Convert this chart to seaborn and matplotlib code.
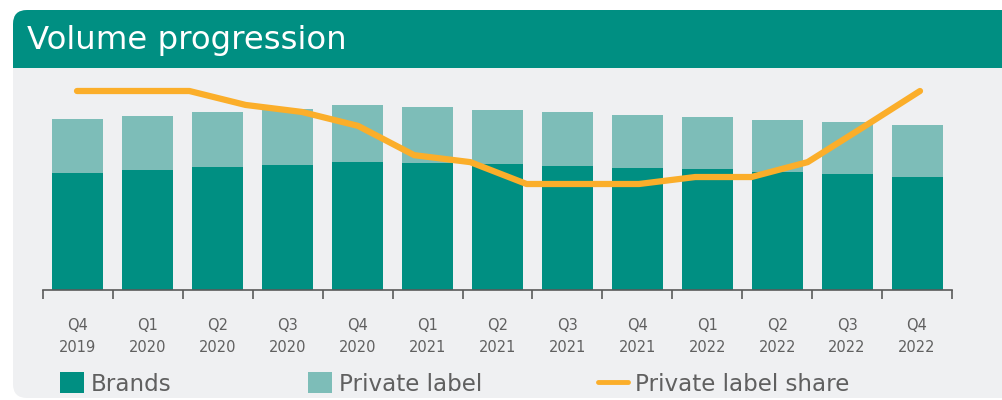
import numpy as np
import pandas as pd
import seaborn as sns
import matplotlib.pyplot as plt
from matplotlib.patches import FancyBboxPatch, Rectangle, Patch
from matplotlib.lines import Line2D
from matplotlib.transforms import IdentityTransform

# quarters shown on the x axis
quarters = ["Q4\n2019", "Q1\n2020", "Q2\n2020", "Q3\n2020", "Q4\n2020",
            "Q1\n2021", "Q2\n2021", "Q3\n2021", "Q4\n2021",
            "Q1\n2022", "Q2\n2022", "Q3\n2022", "Q4\n2022"]
# volumes (index)
brands = [117, 120, 123, 125, 128, 127, 126, 124, 122, 121, 118, 116, 113]
private_label = [54, 54, 55, 56, 57, 56, 54, 54, 53, 52, 52, 52, 52]
# private label share (%), finer steps than the bars
pl_share = [32.0, 32.0, 32.0, 31.7, 31.55, 31.25, 30.62, 30.47, 30.0,
            30.0, 30.0, 30.15, 30.15, 30.47, 31.23, 32.0]

TEAL = "#008F82"
LIGHT = "#7DBDB8"
ORANGE = "#FBAE2A"
PANEL = "#EFF0F2"
GREY = "#5A5A5A"

sns.set_theme(style="white")
plt.rcParams['font.family'] = ['DejaVu Sans']

df = pd.DataFrame({"quarter": quarters, "brands": brands, "pl": private_label})
df["total"] = df["brands"] + df["pl"]

fig = plt.figure(figsize=(10.02, 4.0), dpi=100)
fig.patch.set_facecolor("white")

# background panel + title banner (pixel coords, y from bottom)
H = 400
def py(y):
    return H - y

idt = IdentityTransform()
fig.patches.append(FancyBboxPatch((13, py(398)), 1010, 388, boxstyle="round,pad=0,rounding_size=14",
                                  fc=PANEL, ec="none", transform=idt, figure=fig, zorder=-3))
fig.patches.append(FancyBboxPatch((13, py(90)), 1010, 80, boxstyle="round,pad=0,rounding_size=14",
                                  fc=TEAL, ec="none", transform=idt, figure=fig, zorder=-2))
fig.patches.append(Rectangle((13, py(90)), 1010, 22, fc=PANEL, ec="none",
                             transform=idt, figure=fig, zorder=-1))
fig.text(27 / 1002, 1 - 41 / H, "Volume progression", color="white", fontsize=23.3,
         va="center", ha="left", zorder=3)

ax = fig.add_axes([43 / 1002, 1 - 290 / H, (952 - 43) / 1002, 220 / H])
ax.set_facecolor("none")
sns.barplot(data=df, x="quarter", y="total", color=LIGHT, width=0.73, saturation=1,
            edgecolor="none", linewidth=0, ax=ax)
sns.barplot(data=df, x="quarter", y="brands", color=TEAL, width=0.73, saturation=1,
            edgecolor="none", linewidth=0, ax=ax)
ax.set_xlim(-0.5, len(quarters) - 0.5)
ax.set_ylim(0, 220)
ax.set_xlabel("")
ax.set_ylabel("")
ax.set_yticks([])
for s in ["top", "right", "left"]:
    ax.spines[s].set_visible(False)
ax.spines["bottom"].set_color(GREY)
ax.spines["bottom"].set_linewidth(1.2)
ax.tick_params(axis="x", which="major", bottom=False, length=0, pad=20,
               labelsize=10.5, labelcolor="#606060")
ax.set_xticks(np.arange(-0.5, len(quarters)), minor=True)
ax.tick_params(axis="x", which="minor", bottom=True, length=6.5, width=1.2,
               color=GREY, direction="out")
for lbl in ax.get_xticklabels():
    lbl.set_linespacing(1.6)

# share line on its own overlay axis
ax2 = fig.add_axes(ax.get_position())
ax2.set_facecolor("none")
idx = np.arange(len(pl_share))
sns.lineplot(x=idx, y=pl_share, color=ORANGE, linewidth=4.5, ax=ax2,
             solid_capstyle="round", solid_joinstyle="round")
x_left = -(77 - 43) * 15 / 843
x_right = 15 + (952 - 920) * 15 / 843
ax2.set_xlim(x_left, x_right)
ax2.set_ylim(32 - 199 * 2 / 93, 32 + 21 * 2 / 93)
ax2.axis("off")

# legend entries placed one by one (uneven gaps in the original)
entries = [(Patch(fc=TEAL, ec="none"), "Brands", 60, 1.05),
           (Patch(fc=LIGHT, ec="none"), "Private label", 308, 1.05),
           (Line2D([], [], color=ORANGE, linewidth=3.5), "Private label share", 598, 1.3)]
for handle, label, xpx, hl in entries:
    fig.legend([handle], [label], loc="center left", bbox_to_anchor=(xpx / 1002, 1 - 384 / H),
               frameon=False, fontsize=16.6, labelcolor="#606060", handlelength=hl,
               handleheight=1.0, handletextpad=0.3, borderaxespad=0, borderpad=0)

fig.savefig("out.png", dpi=100)
